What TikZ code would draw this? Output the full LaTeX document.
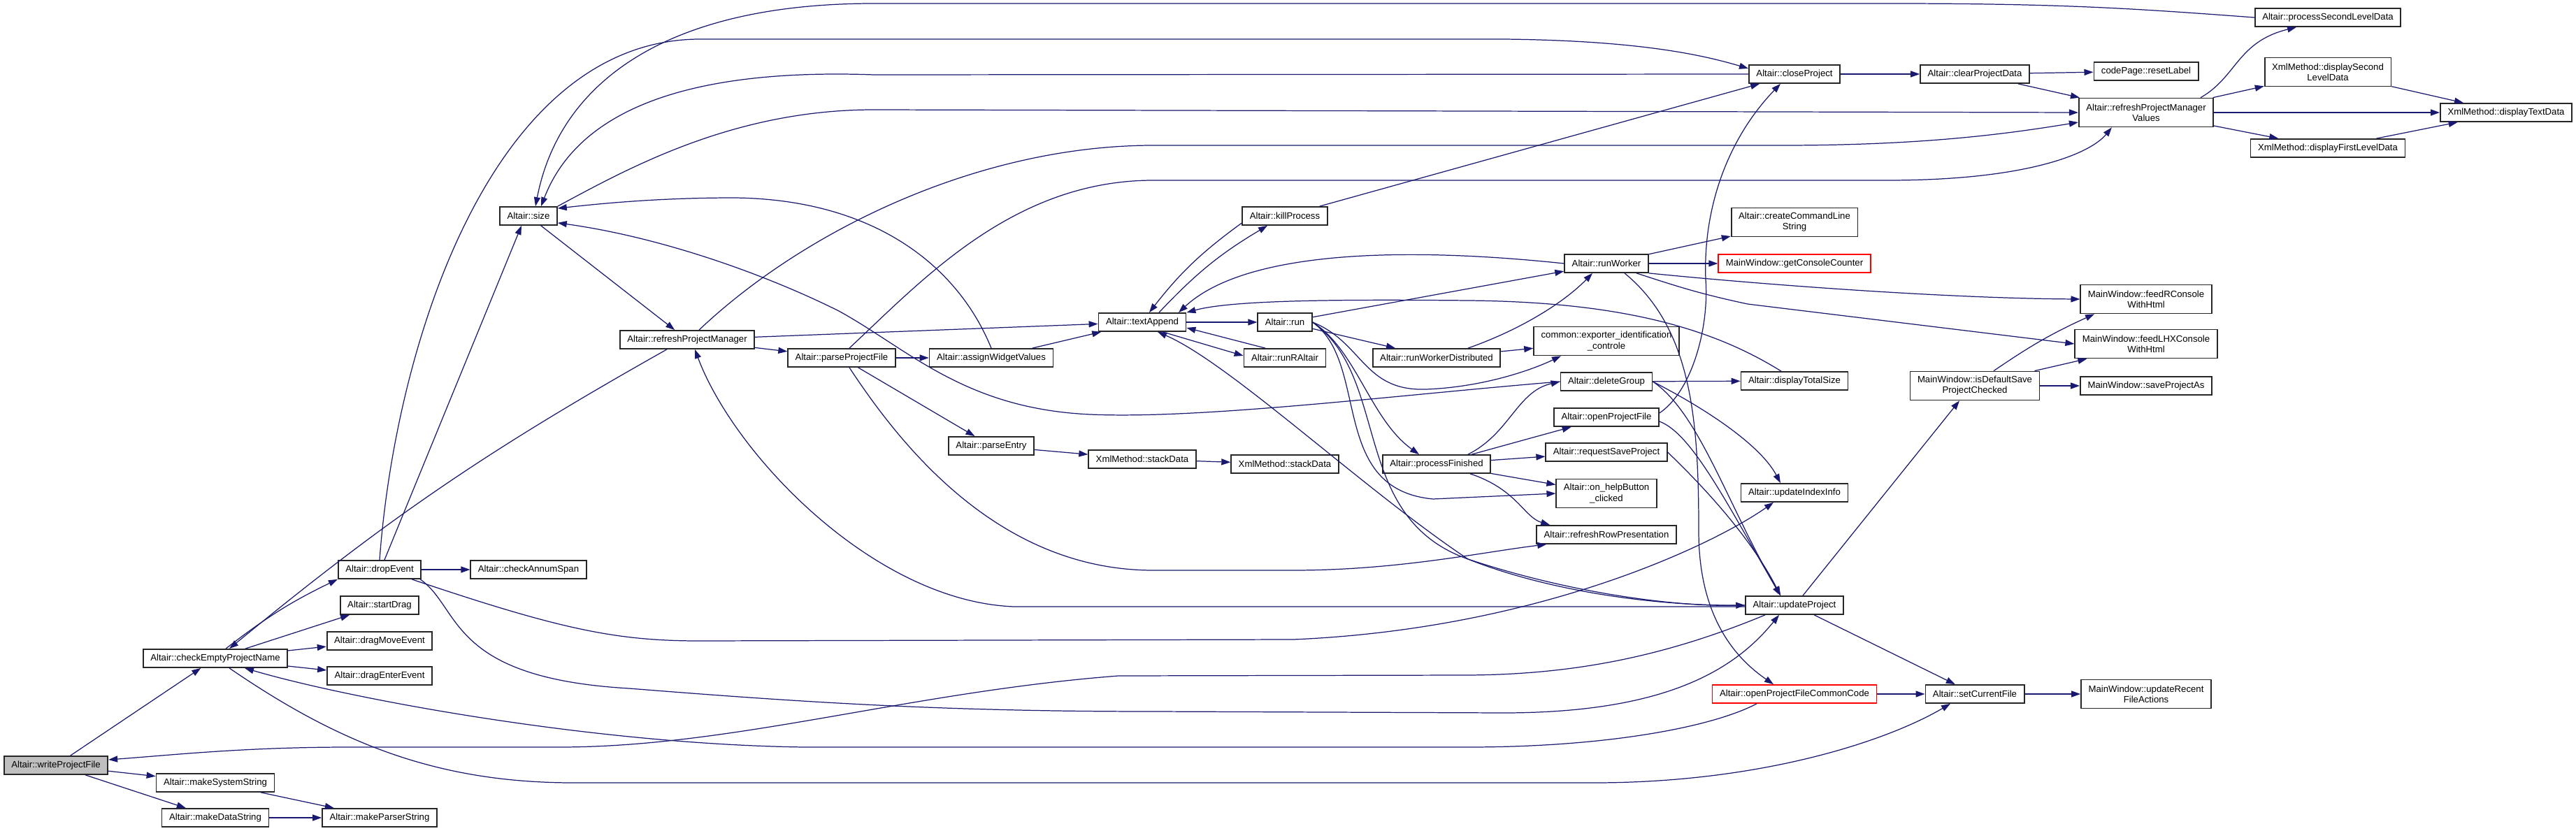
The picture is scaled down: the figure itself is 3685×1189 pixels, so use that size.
\documentclass[tikz,border=0pt]{standalone}
\usepackage{fontspec}
\setmainfont{Liberation Sans}
\usetikzlibrary{arrows.meta,calc}
\definecolor{edgeblue}{RGB}{25,25,112}
\tikzset{
  fn/.style={draw=black!85,line width=1pt,fill=white,font=\fontsize{7.5}{8.6}\selectfont,
    inner xsep=6pt,inner ysep=2pt,minimum height=14.8pt,align=center},
  fn2/.style={fn,minimum height=23.3pt},   % two-line box
  root/.style={fn,fill=black!25},
  ext/.style={fn,draw=red},
  call/.style={draw=edgeblue,line width=0.7pt,-{Triangle[length=2.6mm,width=1.8mm]}},
}
\begin{document}
\begin{tikzpicture}[x=0.02cm,y=-0.02cm]
  \useasboundingbox (0,0) rectangle (3685,1189);
  % ---- functions ----
  \node[root] (wpf) at (80,1095) {Altair::writeProjectFile};
  \node[fn] (cepn) at (308,942) {Altair::checkEmptyProjectName};
  \node[fn] (mss) at (308,1120) {Altair::makeSystemString};
  \node[fn] (mds) at (308,1170) {Altair::makeDataString};
  \node[fn] (mps) at (543,1170) {Altair::makeParserString};
  \node[fn] (drop) at (543,815) {Altair::dropEvent};
  \node[fn] (annum) at (756,815) {Altair::checkAnnumSpan};
  \node[fn] (sdrag) at (543,866) {Altair::startDrag};
  \node[fn] (dmove) at (543,917) {Altair::dragMoveEvent};
  \node[fn] (denter) at (543,967) {Altair::dragEnterEvent};
  \node[fn] (size) at (756,309) {Altair::size};
  \node[fn] (rpm) at (983,486) {Altair::refreshProjectManager};
  \node[fn] (ppf) at (1204,512) {Altair::parseProjectFile};
  \node[fn] (awv) at (1418,512) {Altair::assignWidgetValues};
  \node[fn] (pent) at (1418,638) {Altair::parseEntry};
  \node[fn] (tapp) at (1634,461) {Altair::textAppend};
  \node[fn] (sda) at (1634,657) {XmlMethod::stackData};
  \node[fn] (kill) at (1838,309) {Altair::killProcess};
  \node[fn] (run) at (1838,461) {Altair::run};
  \node[fn] (rra) at (1838,512) {Altair::runRAltair};
  \node[fn] (sdb) at (1838,664) {XmlMethod::stackData};
  \node[fn] (rwd) at (2055,512) {Altair::runWorkerDistributed};
  \node[fn] (pfin) at (2055,664) {Altair::processFinished};
  \node[fn] (rw) at (2298,377) {Altair::runWorker};
  \node[fn2] (exp) at (2298,488) {common::exporter\_identification\\\_controle};
  \node[fn] (dgrp) at (2298,546) {Altair::deleteGroup};
  \node[fn] (opf) at (2298,597) {Altair::openProjectFile};
  \node[fn] (rsp) at (2298,647) {Altair::requestSaveProject};
  \node[fn2] (help) at (2298,706) {Altair::on\_helpButton\\\_clicked};
  \node[fn] (rrp) at (2298,765) {Altair::refreshRowPresentation};
  \node[fn] (close) at (2567,106) {Altair::closeProject};
  \node[fn2] (ccls) at (2567,318) {Altair::createCommandLine\\String};
  \node[ext] (gcc) at (2567,377) {MainWindow::getConsoleCounter};
  \node[fn] (dts) at (2567,545) {Altair::displayTotalSize};
  \node[fn] (uii) at (2567,705) {Altair::updateIndexInfo};
  \node[fn] (upd) at (2567,866) {Altair::updateProject};
  \node[ext] (opfcc) at (2567,993) {Altair::openProjectFileCommonCode};
  \node[fn] (cpd) at (2825,106) {Altair::clearProjectData};
  \node[fn2] (isdef) at (2825,552) {MainWindow::isDefaultSave\\ProjectChecked};
  \node[fn] (scf) at (2825,993) {Altair::setCurrentFile};
  \node[fn] (reset) at (3070,102) {codePage::resetLabel};
  \node[fn2] (rpmv) at (3070,161) {Altair::refreshProjectManager\\Values};
  \node[fn2] (frc) at (3070,428) {MainWindow::feedRConsole\\WithHtml};
  \node[fn2] (flhx) at (3070,492) {MainWindow::feedLHXConsole\\WithHtml};
  \node[fn] (spa) at (3070,552) {MainWindow::saveProjectAs};
  \node[fn2] (urfa) at (3070,993) {MainWindow::updateRecent\\FileActions};
  \node[fn] (psld) at (3330,25) {Altair::processSecondLevelData};
  \node[fn2] (dsld) at (3330,103) {XmlMethod::displaySecond\\LevelData};
  \node[fn] (dfld) at (3330,212) {XmlMethod::displayFirstLevelData};
  \node[fn] (dtd) at (3585,161) {XmlMethod::displayTextData};

  % ---- calls, left part ----
  \draw[call] (wpf) -- (cepn);
  \draw[call] (wpf) -- (mss);
  \draw[call] (wpf) -- (mds);
  \draw[call] (mss) -- (mps);
  \draw[call] (mds) -- (mps);
  \draw[call] ($(cepn.north)+(15,0)$) to[bend left=6] (drop.south west);
  \draw[call] (cepn) -- (sdrag);
  \draw[call] (cepn) -- (dmove);
  \draw[call] (cepn) -- (denter);
  \draw[call] ($(cepn.south)+(20,0)$) .. controls (480,1060) and (620,1120) .. (820,1120)
    -- (2280,1120) .. controls (2520,1120) and (2700,1060) .. ($(scf.south)+(-35,0)$);
  \draw[call] ($(rpm.south)+(-29,0)$) to[bend right=5] ($(cepn.north)+(20,0)$);
  \draw[call] ($(opfcc.south)+(-54,0)$) .. controls (2450,1040) and (2300,1069) .. (2100,1069)
    -- (1150,1069) .. controls (850,1065) and (500,1000) .. ($(cepn.south)+(42,0)$);
  \draw[call] ($(upd.south)+(-42,0)$) .. controls (2380,940) and (2250,965) .. (2100,966)
    -- (1600,967) .. controls (1300,990) and (1050,1069) .. (800,1069)
    -- (500,1069) .. controls (350,1069) and (250,1080) .. ($(wpf.east)+(0,-8)$);
  \draw[call] (drop) -- (annum);
  \draw[call] ($(drop.north)+(7,0)$) -- ($(size.south)+(-10,0)$);
  \draw[call] (drop.north) .. controls (565,500) and (700,58) .. (1000,56)
    -- (2150,56) .. controls (2350,58) and (2440,80) .. ($(close.west)+(0,-8)$);
  \draw[call] ($(drop.south east)+(-14,0)$) .. controls (800,900) and (880,917) .. (1000,917)
    -- (1850,915) .. controls (2200,900) and (2450,780) .. ($(uii.south)+(-30,0)$);
  \draw[call] ($(drop.south east)+(-2,0)$) .. controls (660,870) and (640,970) .. (900,985)
    .. controls (1150,1005) and (1350,1018) .. (1650,1018)
    -- (2150,1020) .. controls (2380,1020) and (2480,960) .. ($(upd.south)+(-22,0)$);

  % ---- size and the project manager ----
  \draw[call] (size) -- (rpm);
  \draw[call] (size.north east) .. controls (900,240) and (1050,157) .. (1250,157) -- (rpmv.west);
  \draw[call] (psld.west) .. controls (3050,12) and (2950,5) .. (2700,5)
    -- (1250,5) .. controls (950,5) and (800,120) .. ($(size.north)+(10,0)$);
  \draw[call] (close.west) -- (1250,107) .. controls (1000,98) and (830,150) .. ($(size.north)+(18,0)$);
  \draw[call] (awv.north) .. controls (1370,380) and (1250,285) .. (1050,283)
    .. controls (950,283) and (870,290) .. ($(size.north east)+(0,3)$);
  \draw[call] (dgrp.west) .. controls (2000,565) and (1720,600) .. (1560,593)
    .. controls (1380,585) and (1300,500) .. (1200,445)
    .. controls (1100,395) and (950,340) .. ($(size.south east)+(0,-4)$);
  \draw[call] (rpm) -- (ppf);
  \draw[call] (rpm) -- (tapp);
  \draw[call] ($(rpm.north)+(17,0)$) .. controls (1150,330) and (1400,208) .. (1650,208)
    -- (2550,208) .. controls (2760,208) and (2880,190) .. ($(rpmv.west)+(0,14)$);
  \draw[call] ($(upd.west)+(0,2)$) -- (1450,868) .. controls (1250,860) and (1050,650) .. ($(rpm.south)+(11,0)$);
  \draw[call] (ppf) -- (awv);
  \draw[call] (ppf) -- (pent);
  \draw[call] ($(ppf.south)+(11,0)$) .. controls (1290,640) and (1430,816) .. (1650,816)
    -- (1850,816) .. controls (2000,816) and (2120,790) .. ($(rrp.south west)+(15,0)$);
  \draw[call] ($(ppf.north)+(11,0)$) .. controls (1320,400) and (1450,258) .. (1650,258)
    -- (2700,258) .. controls (2900,258) and (2990,220) .. ($(rpmv.south west)+(48,0)$);
  \draw[call] (awv) -- (tapp);
  \draw[call] (pent) -- (sda);
  \draw[call] (sda) -- (sdb);

  % ---- textAppend and the workers ----
  \draw[call] ($(tapp.north)+(24,0)$) to[bend left=8] ($(kill.south)+(-25,0)$);
  \draw[call] ($(kill.west)+(0,10)$) to[bend right=8] ($(tapp.north)+(10,0)$);
  \draw[call] (tapp) -- (run);
  \draw[call] ($(tapp.south)+(29,0)$) -- ($(rra.west)+(0,-3)$);
  \draw[call] ($(rra.north)+(-28,0)$) -- ($(tapp.east)+(0,8)$);
  \draw[call] (rw.west) .. controls (2000,352) and (1780,360) .. ($(tapp.north)+(52,0)$);
  \draw[call] ($(dts.north)+(-19,0)$) .. controls (2450,470) and (2320,432) .. (2100,430)
    .. controls (1900,428) and (1760,430) .. (tapp.north east);
  \draw[call] (upd.west) .. controls (2350,868) and (2200,840) .. (2100,800)
    .. controls (1950,700) and (1760,520) .. ($(tapp.south)+(22,0)$);
  \draw[call] (run.east) .. controls (1990,540) and (1930,740) .. (2100,800)
    .. controls (2250,850) and (2400,868) .. (upd.west);
  \draw[call] (kill) -- (close);
  \draw[call] (run) -- (rw);
  \draw[call] (run) -- (rwd);
  \draw[call] (run.east) .. controls (1950,490) and (1950,560) .. (2040,557)
    .. controls (2120,554) and (2190,530) .. ($(exp.south)+(-65,0)$);
  \draw[call] (run.east) .. controls (1940,500) and (1960,600) .. ($(pfin.north)+(-25,0)$);
  \draw[call] (run.east) .. controls (1960,520) and (1900,700) .. (2050,714) -- (help.west);
  \draw[call] ($(rwd.north)+(45,0)$) .. controls (2180,470) and (2240,430) .. ($(rw.south)+(-20,0)$);
  \draw[call] (rwd) -- (exp);
  \draw[call] (rw) -- (ccls);
  \draw[call] (rw) -- (gcc);
  \draw[call] (rw.south east) .. controls (2550,410) and (2800,427) .. (frc.west);
  \draw[call] ($(rw.south)+(43,0)$) .. controls (2400,410) and (2430,420) .. (2500,435) -- (flhx.west);
  \draw[call] ($(rw.south)+(26,0)$) .. controls (2420,470) and (2430,600) .. (2430,760)
    .. controls (2430,880) and (2480,940) .. ($(opfcc.north)+(-30,0)$);
  \draw[call] ($(pfin.north)+(45,0)$) .. controls (2160,620) and (2170,560) .. (dgrp.west);
  \draw[call] (pfin) -- (opf);
  \draw[call] (pfin) -- (rsp);
  \draw[call] (pfin) -- (help);
  \draw[call] ($(pfin.south east)+(-30,0)$) .. controls (2170,700) and (2180,740) .. ($(rrp.north west)+(20,0)$);
  \draw[call] (dgrp) -- (dts);
  \draw[call] (dgrp.east) .. controls (2450,590) and (2520,640) .. ($(uii.north)+(-20,0)$);
  \draw[call] (dgrp.east) .. controls (2430,590) and (2470,720) .. ($(upd.north)+(-20,0)$);
  \draw[call] ($(opf.east)+(0,-6)$) .. controls (2420,560) and (2445,470) .. (2440,400)
    .. controls (2436,300) and (2470,200) .. ($(close.south)+(-20,0)$);
  \draw[call] ($(opf.east)+(0,6)$) .. controls (2420,620) and (2470,720) .. ($(upd.north)+(-20,0)$);
  \draw[call] (rsp.east) .. controls (2420,680) and (2500,760) .. ($(upd.north)+(-20,0)$);

  % ---- right part ----
  \draw[call] (close) -- (cpd);
  \draw[call] (cpd) -- (reset);
  \draw[call] (cpd) -- (rpmv);
  \draw[call] ($(upd.north)+(12,0)$) -- ($(isdef.south)+(-22,0)$);
  \draw[call] (upd) -- (scf);
  \draw[call] (opfcc) -- (scf);
  \draw[call] (scf) -- (urfa);
  \draw[call] ($(isdef.north)+(27,0)$) to[bend left=5] ($(frc.south)+(-74,0)$);
  \draw[call] ($(isdef.north east)+(-8,0)$) -- ($(flhx.south west)+(18,0)$);
  \draw[call] (isdef) -- (spa);
  \draw[call] ($(rpmv.north)+(78,0)$) .. controls (3200,110) and (3200,60) .. ($(psld.south)+(-45,0)$);
  \draw[call] (rpmv) -- (dsld);
  \draw[call] (rpmv) -- (dtd);
  \draw[call] (rpmv) -- (dfld);
  \draw[call] (dsld) -- (dtd);
  \draw[call] (dfld) -- (dtd);
\end{tikzpicture}
\end{document}
